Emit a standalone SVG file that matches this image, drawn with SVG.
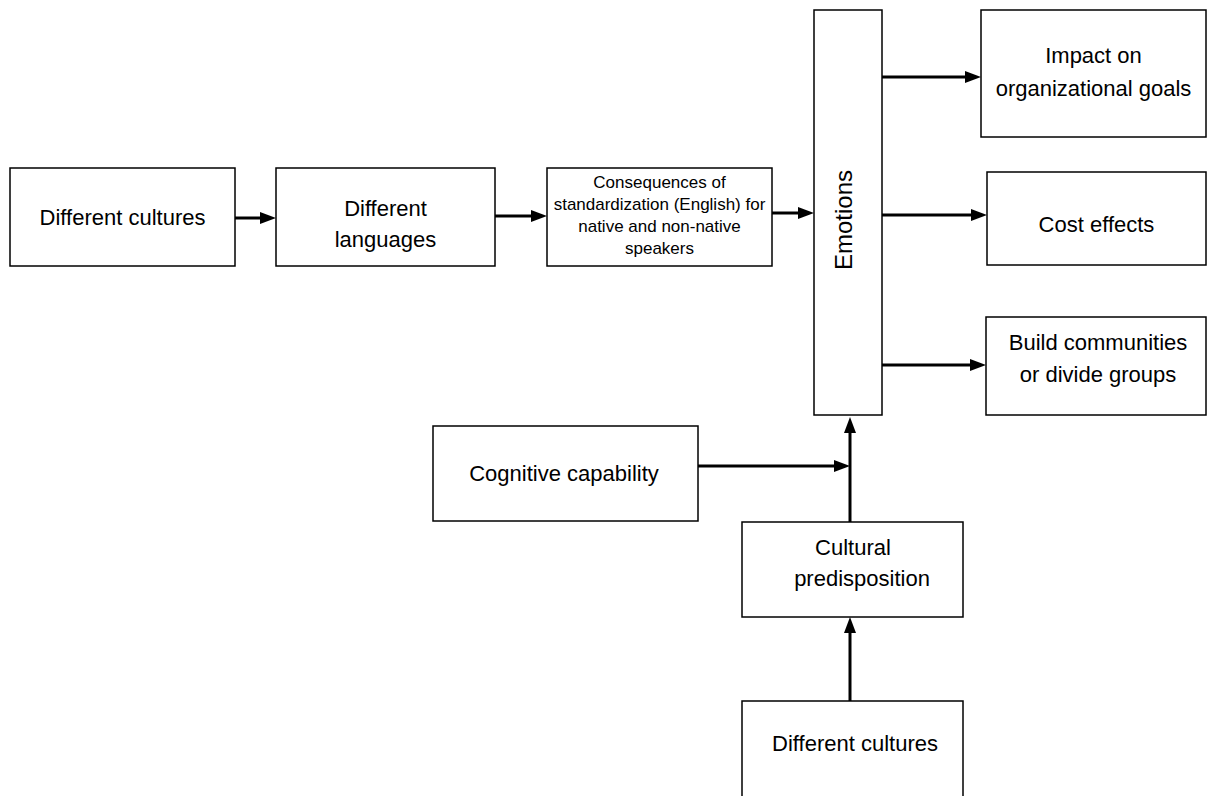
<svg xmlns="http://www.w3.org/2000/svg" width="1211" height="796" viewBox="0 0 1211 796">
<style>
.box{fill:#fff;stroke:#000;stroke-width:1.5}
.t{font-family:"Liberation Sans",Arial,sans-serif;font-size:22px;fill:#000;text-anchor:middle}
.s{font-size:17px}
.c{fill:none;stroke:#000;stroke-width:3}
</style>
<defs>
<marker id="ah" markerWidth="16" markerHeight="12" refX="6" refY="6" orient="auto" markerUnits="userSpaceOnUse">
<path d="M0,0 L16,6 L0,12 z" fill="#000"/>
</marker>
</defs>
<rect width="1211" height="796" fill="#fff"/>
<g id="n1"><rect class="box" x="10" y="168" width="225" height="98"/><text class="t" x="122.5" y="225">Different cultures</text></g>
<g id="n2"><rect class="box" x="276" y="168" width="219" height="98"/><text class="t" x="385.5" y="216">Different</text><text class="t" x="385.5" y="247">languages</text></g>
<g id="n3"><rect class="box" x="547" y="168" width="225" height="98"/>
<text class="t s" x="659.5" y="188">Consequences of</text>
<text class="t s" x="659.5" y="210">standardization (English) for</text>
<text class="t s" x="659.5" y="232">native and non-native</text>
<text class="t s" x="659.5" y="254">speakers</text></g>
<g id="n4"><rect class="box" x="814" y="10" width="68" height="405"/><text class="t" style="font-size:24px" transform="translate(852,220) rotate(-90)">Emotions</text></g>
<g id="n5"><rect class="box" x="981" y="10" width="225" height="127"/><text class="t" x="1093.5" y="63">Impact on</text><text class="t" x="1093.5" y="96">organizational goals</text></g>
<g id="n6"><rect class="box" x="987" y="172" width="219" height="93"/><text class="t" x="1096.5" y="232">Cost effects</text></g>
<g id="n7"><rect class="box" x="986" y="317" width="220" height="98"/><text class="t" x="1098" y="350">Build communities</text><text class="t" x="1098" y="382">or divide groups</text></g>
<g id="n8"><rect class="box" x="433" y="426" width="265" height="95"/><text class="t" x="564" y="481">Cognitive capability</text></g>
<g id="n9"><rect class="box" x="742" y="522" width="221" height="95"/><text class="t" x="853" y="555">Cultural</text><text class="t" x="862" y="586">predisposition</text></g>
<g id="n10"><rect class="box" x="742" y="701" width="221" height="110"/><text class="t" x="855" y="751">Different cultures</text></g>
<g id="connectors">
<path class="c" d="M235,218 H266" marker-end="url(#ah)"/>
<path class="c" d="M495,216 H537" marker-end="url(#ah)"/>
<path class="c" d="M772,213 H804" marker-end="url(#ah)"/>
<path class="c" d="M882,77 H971" marker-end="url(#ah)"/>
<path class="c" d="M882,215 H977" marker-end="url(#ah)"/>
<path class="c" d="M882,365 H976" marker-end="url(#ah)"/>
<path class="c" d="M698,466 H840" marker-end="url(#ah)"/>
<path class="c" d="M850,522 V427" marker-end="url(#ah)"/>
<path class="c" d="M850,701 V627" marker-end="url(#ah)"/>
</g>
</svg>
